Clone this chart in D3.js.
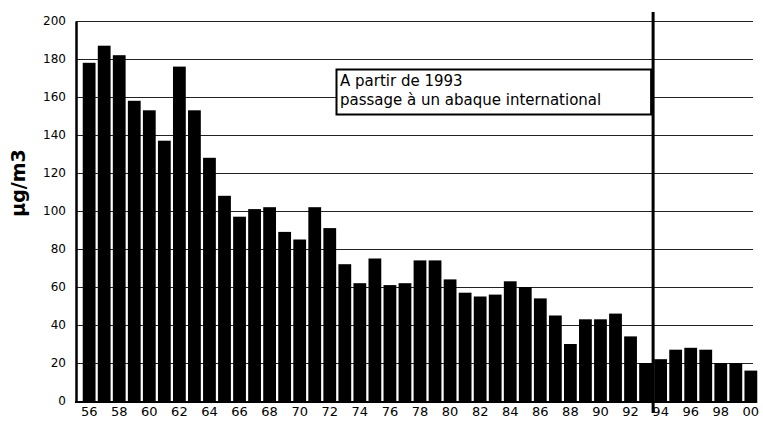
<!DOCTYPE html>
<html>
<head>
<meta charset="utf-8">
<script src="https://cdn.jsdelivr.net/npm/d3@7"></script>
<style>
  body { margin: 0; background: #fff; }
  text { font-family: "DejaVu Sans", sans-serif; fill: #000; }
</style>
</head>
<body>
<div id="chart"></div>
<script>
"use strict";
// yearly values, ug/m3
const years = d3.range(1956, 2001)
const values = [178, 187, 182, 158, 153, 137, 176, 153, 128, 108,
                97, 101, 102, 89, 85, 102, 91, 72, 62, 75,
                61, 62, 74, 74, 64, 57, 55, 56, 63, 60,
                54, 45, 30, 43, 43, 46, 34, 20, 22, 27,
                28, 27, 20, 20, 16]
const yTicks = [0, 20, 40, 60, 80, 100, 120, 140, 160, 180, 200]
const xTicks = years.filter(y => y % 2 === 0)
const noteLines = ["A partir de 1993", "passage à un abaque international"]
const breakYear = 1994

const m = { width: 763, height: 423, left: 76, top: 21, bottom: 401, right: 753 }

const svg = d3.select("#chart").append("svg")
    .attr("width", m.width)
    .attr("height", m.height)

const x = d3.scaleBand()
    .domain(years)
    .range([82, 758])
    .paddingInner(0.15)
    .paddingOuter(0.05)

const y = d3.scaleLinear()
    .domain([0, 200])
    .range([m.bottom, m.top])

// gridlines behind bars
svg.append("g")
  .selectAll("line")
  .data(yTicks.filter(d => d > 0))
  .enter()
  .append("line")
    .attr("x1", m.left)
    .attr("x2", m.right)
    .attr("y1", d => Math.round(y(d)) + 0.5)
    .attr("y2", d => Math.round(y(d)) + 0.5)
    .attr("stroke", "#222")
    .attr("stroke-width", 1.2)

// bars
svg.append("g")
  .selectAll("rect")
  .data(years)
  .enter()
  .append("rect")
    .attr("x", d => x(d))
    .attr("y", (d, i) => y(values[i]))
    .attr("width", x.bandwidth())
    .attr("height", (d, i) => y(0) - y(values[i]))
    .attr("fill", "#000")

// y axis
const yAxis = svg.append("g")
    .attr("transform", "translate(" + m.left + ",0)")
    .call(d3.axisLeft(y).tickValues(yTicks).tickSize(0).tickPadding(10))
yAxis.select(".domain").attr("stroke", "#000").attr("stroke-width", 2.5)
yAxis.selectAll("text")
    .attr("font-size", "12px")
    .attr("font-family", "DejaVu Sans")

// x axis
const xAxis = svg.append("g")
    .attr("transform", "translate(0," + m.bottom + ")")
    .call(d3.axisBottom(x).tickValues(xTicks).tickSize(0).tickPadding(6)
      .tickFormat(d => String(d).slice(2)))
xAxis.select(".domain").remove()
xAxis.selectAll("text")
    .attr("font-size", "13px")
    .attr("font-family", "DejaVu Sans")
svg.append("line")
    .attr("x1", m.left - 1)
    .attr("x2", x(2000) + x.bandwidth())
    .attr("y1", m.bottom + 1)
    .attr("y2", m.bottom + 1)
    .attr("stroke", "#000")
    .attr("stroke-width", 2)

// y title
svg.append("text")
    .attr("transform", "translate(25,183)rotate(-90)")
    .attr("text-anchor", "middle")
    .attr("font-size", "19px")
    .attr("font-weight", "bold")
    .text("µg/m3")

// break line between 1993 and 1994
const breakX = x(breakYear) - x.step() * x.paddingInner() / 2
svg.append("line")
    .attr("x1", breakX)
    .attr("x2", breakX)
    .attr("y1", 12)
    .attr("y2", 413)
    .attr("stroke", "#000")
    .attr("stroke-width", 3)

// note box
svg.append("rect")
    .attr("x", 336.5)
    .attr("y", 69.5)
    .attr("width", breakX - 2 - 336.5)
    .attr("height", 45)
    .attr("fill", "#fff")
    .attr("stroke", "#000")
    .attr("stroke-width", 2)
svg.append("g")
  .selectAll("text")
  .data(noteLines)
  .enter()
  .append("text")
    .attr("x", 340)
    .attr("y", (d, i) => 86 + i * 19)
    .attr("font-size", "15px")
    .text(d => d)
</script>
</body>
</html>
